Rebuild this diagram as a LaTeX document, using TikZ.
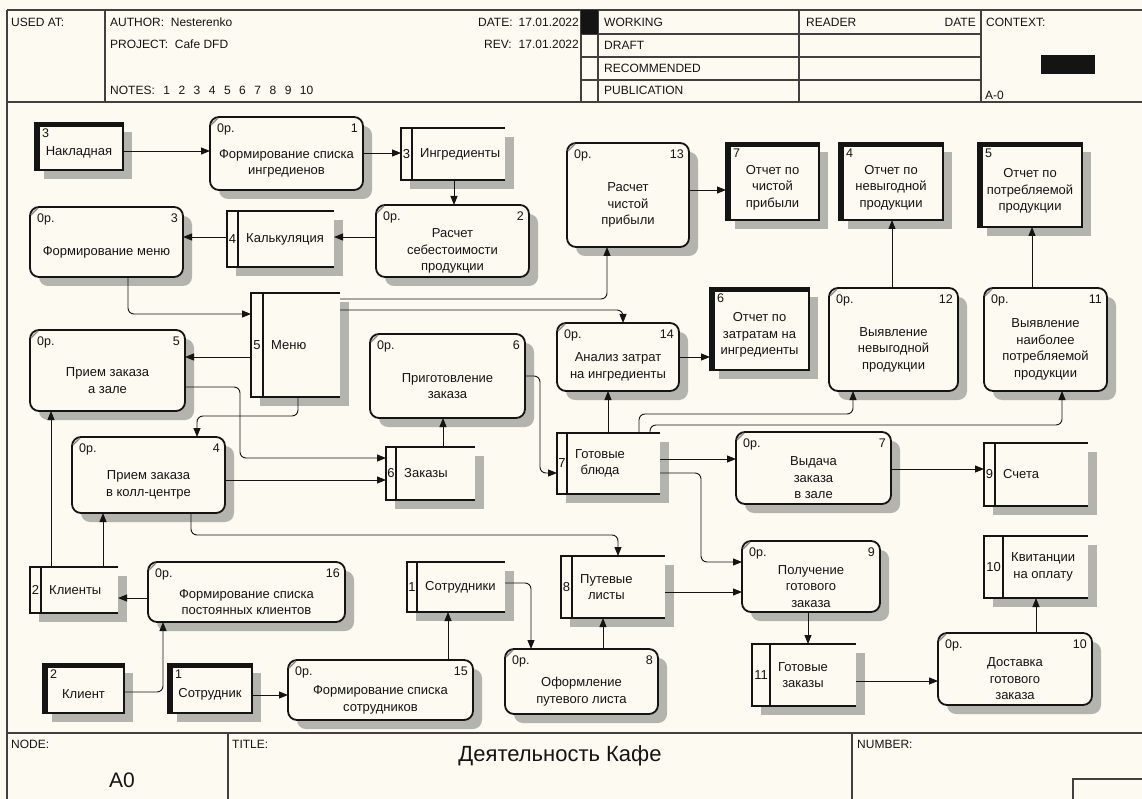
\documentclass[tikz,border=0pt]{standalone}
\usepackage{fontspec}
\setmainfont{Liberation Sans}
\usetikzlibrary{arrows.meta}
\definecolor{bgc}{RGB}{252,250,241}
\definecolor{shadowc}{RGB}{180,180,174}
\definecolor{inkc}{RGB}{20,20,20}
\tikzset{
  conn/.style={draw=inkc, line width=0.9pt, rounded corners=6, -{Triangle[length=9pt,width=7pt]}},
  pbox/.style={draw=inkc, line width=1.8pt, rounded corners=9, fill=bgc, inner sep=0pt, outer sep=0pt},
  ebox/.style={draw=inkc, line width=1.6pt, fill=bgc, inner sep=0pt, outer sep=0pt},
  sbox/.style={draw=none, inner sep=0pt, outer sep=0pt},
  sline/.style={draw=inkc, line width=1.6pt},
  lbl/.style={font=\fontsize{13}{16.5}\selectfont, align=center, inner sep=0pt, text=inkc},
  nlbl/.style={font=\fontsize{12.5}{14}\selectfont, inner sep=0pt, text=inkc},
  hdr/.style={font=\fontsize{12}{14}\selectfont, inner sep=0pt, anchor=west, text=inkc},
  frame/.style={draw=black!75, line width=1.3pt},
}
\newcommand\procbox[7]{%
  \pgfmathsetmacro\myCX{(#2+#4)/2}%
  \pgfmathsetmacro\myCY{(#3+#5)/2}%
  \pgfmathsetmacro\myW{#4-#2}%
  \pgfmathsetmacro\myH{#5-#3}%
  \fill[shadowc, rounded corners=9] (#2+9,#3+9) rectangle (#4+9,#5+9);
  \node[pbox, minimum width=\myW pt, minimum height=\myH pt] (#1) at (\myCX,\myCY) {};
  \draw[gray, line width=1.2pt] (#2+1,#3+8) -- (#2+8,#3+1);
  \node[nlbl, anchor=north west] at (#2+7,#3+7) {0р.};
  \node[nlbl, anchor=north east] at (#4-5,#3+7) {#6};
  \node[lbl] at (\myCX,\myCY+10) {#7};
}
\newcommand\storebox[8]{%
  \pgfmathsetmacro\myCX{(#2+#4)/2}%
  \pgfmathsetmacro\myCY{(#3+#5)/2}%
  \pgfmathsetmacro\myW{#4-#2}%
  \pgfmathsetmacro\myH{#5-#3}%
  \pgfmathsetmacro\myNX{(#2+#6)/2}%
  \fill[shadowc] (#2+9,#3+9) rectangle (#4+9,#5+9);
  \node[sbox, fill=bgc, minimum width=\myW pt, minimum height=\myH pt] (#1) at (\myCX,\myCY) {};
  \draw[sline] (#4,#3) -- (#2,#3) -- (#2,#5) -- (#4,#5);
  \draw[sline] (#6,#3) -- (#6,#5);
  \node[lbl] at (\myNX,\myCY) {#7};
  \node[lbl, anchor=west] at (#6+8,\myCY) {#8};
}
\newcommand\entbox[7]{%
  \pgfmathsetmacro\myCX{(#2+#4)/2}%
  \pgfmathsetmacro\myCY{(#3+#5)/2}%
  \pgfmathsetmacro\myW{#4-#2}%
  \pgfmathsetmacro\myH{#5-#3}%
  \fill[shadowc] (#2+9,#3+9) rectangle (#4+9,#5+9);
  \node[ebox, minimum width=\myW pt, minimum height=\myH pt] (#1) at (\myCX,\myCY) {};
  \fill[inkc] (#2-0.8,#3-0.8) rectangle (#2+5,#5+0.8);
  \fill[inkc] (#2-0.8,#3-0.8) rectangle (#4+0.8,#3+4);
  \node[nlbl, anchor=north west] at (#2+7,#3+6) {#6};
  \node[lbl] at (\myCX,\myCY+6) {#7};
}
\newcommand\nsp{\hskip 8.5pt\relax}
\begin{document}
\begin{tikzpicture}[x=1pt,y=-1pt]
\useasboundingbox (0,0) rectangle (1142,799);
\fill[bgc] (0,0) rectangle (1142,799);
% ---------- header ----------
\draw[frame] (7,10) -- (1142,10);
\draw[frame] (7,10) -- (7,799);
\draw[frame] (7,102) -- (1142,102);
\draw[frame] (105,10) -- (105,102);
\draw[frame] (581,10) -- (581,102);
\draw[frame] (598,10) -- (598,102);
\draw[frame] (799,10) -- (799,102);
\draw[frame] (981,10) -- (981,102);
\draw[frame] (581,34) -- (981,34);
\draw[frame] (581,57) -- (981,57);
\draw[frame] (581,80) -- (981,80);
\fill[inkc] (581,10) rectangle (598,34);
\fill[inkc] (1041,55) rectangle (1095,74);
\node[hdr] at (11,22) {USED AT:};
\node[hdr] at (110,22) {AUTHOR:\ \ Nesterenko};
\node[hdr] at (110,44) {PROJECT:\ \ Cafe DFD};
\node[hdr] at (110,90) {NOTES:\nsp 1\nsp 2\nsp 3\nsp 4\nsp 5\nsp 6\nsp 7\nsp 8\nsp 9\nsp 10};
\node[hdr] at (478,22) {DATE:};
\node[hdr, anchor=east] at (579,22) {17.01.2022};
\node[hdr] at (484,44) {REV:};
\node[hdr, anchor=east] at (579,44) {17.01.2022};
\node[hdr] at (604,22) {WORKING};
\node[hdr] at (604,45) {DRAFT};
\node[hdr] at (604,68) {RECOMMENDED};
\node[hdr] at (604,90) {PUBLICATION};
\node[hdr] at (806,22) {READER};
\node[hdr, anchor=east] at (976,22) {DATE};
\node[hdr] at (986,22) {CONTEXT:};
\node[hdr] at (985,95) {A-0};
% ---------- footer ----------
\draw[frame] (7,733) -- (1142,733);
\draw[frame] (228,733) -- (228,799);
\draw[frame] (852,733) -- (852,799);
\draw[frame] (1073,799) -- (1073,779) -- (1142,779);
\node[hdr] at (11,744) {NODE:};
\node[hdr] at (232,744) {TITLE:};
\node[hdr] at (857,744) {NUMBER:};
\node[font=\fontsize{22}{24}\selectfont, inner sep=0pt, text=inkc] at (560,756) {Деятельность Кафе};
\node[font=\fontsize{21}{24}\selectfont, inner sep=0pt, text=inkc] at (122,780) {A0};
% ---------- processes ----------
\procbox{p1}{210}{117}{363}{190}{1}{Формирование списка\\ингредиенов}
\procbox{p2}{376}{205}{529}{277}{2}{Расчет\\себестоимости\\продукции}
\procbox{p3}{30}{207}{183}{277}{3}{Формирование меню}
\procbox{p13}{567}{143}{689}{247}{13}{Расчет\\чистой\\прибыли}
\procbox{p14}{557}{323}{679}{391}{14}{Анализ затрат\\на ингредиенты}
\procbox{p12}{829}{288}{958}{391}{12}{Выявление\\невыгодной\\продукции}
\procbox{p11}{984}{288}{1107}{391}{11}{Выявление\\наиболее\\потребляемой\\продукции}
\procbox{p5}{30}{330}{185}{411}{5}{Прием заказа\\а зале}
\procbox{p6}{370}{334}{525}{418}{6}{Приготовление\\заказа}
\procbox{p4}{72}{437}{225}{513}{4}{Прием заказа\\в колл-центре}
\procbox{p7}{736}{432}{891}{504}{7}{Выдача\\заказа\\в зале}
\procbox{p9}{742}{541}{880}{612}{9}{Получение\\готового\\заказа}
\procbox{p16}{148}{562}{345}{622}{16}{Формирование списка\\постоянных клиентов}
\procbox{p15}{288}{660}{473}{720}{15}{Формирование списка\\сотрудников}
\procbox{p8}{505}{649}{658}{714}{8}{Оформление\\путевого листа}
\procbox{p10}{938}{633}{1092}{705}{10}{Доставка\\готового\\заказа}
% ---------- data stores ----------
\storebox{s3}{401}{128}{505}{180}{412}{3}{Ингредиенты}
\storebox{s4}{227}{211}{334}{267}{238}{4}{Калькуляция}
\storebox{s5}{251}{293}{340}{397}{263}{5}{Меню}
\storebox{s6}{386}{447}{475}{500}{396}{6}{Заказы}
\storebox{s7}{557}{433}{660}{494}{567}{7}{Готовые\\блюда}
\storebox{s9}{984}{443}{1088}{506}{995}{9}{Счета}
\storebox{s10}{984}{536}{1088}{598}{1003}{10}{Квитанции\\на оплату}
\storebox{s11}{752}{644}{856}{706}{770}{11}{Готовые\\заказы}
\storebox{s2}{30}{567}{118}{613}{41}{2}{Клиенты}
\storebox{s1}{407}{562}{505}{612}{417}{1}{Сотрудники}
\storebox{s8}{561}{556}{665}{618}{572}{8}{Путевые\\листы}
% ---------- external entities ----------
\entbox{e3}{35}{123}{123}{170}{3}{Накладная}
\entbox{e7}{726}{143}{819}{220}{7}{Отчет по\\чистой\\прибыли}
\entbox{e4}{839}{143}{943}{220}{4}{Отчет по\\невыгодной\\продукции}
\entbox{e5}{978}{143}{1082}{227}{5}{Отчет по\\потребляемой\\продукции}
\entbox{e6}{710}{288}{809}{370}{6}{Отчет по\\затратам на\\ингредиенты}
\entbox{e2}{43}{664}{124}{713}{2}{Клиент}
\entbox{e1}{168}{664}{252}{713}{1}{Сотрудник}
% ---------- connectors ----------
\draw[conn] (e3.east |- 0,151) -- (p1.west |- 0,151);
\draw[conn] (p1.east |- 0,153) -- (s3.west |- 0,153);
\draw[conn] (s3.south -| 454,0) -- (p2.north -| 454,0);
\draw[conn] (p2.west |- 0,237) -- (s4.east |- 0,237);
\draw[conn] (s4.west |- 0,237) -- (p3.east |- 0,237);
\draw[conn] (p3.south -| 128,0) -- (128,314) -- (s5.west |- 0,314);
\draw[conn] (s5.east |- 0,299) -- (607,299) -- (p13.south -| 607,0);
\draw[conn] (s5.east |- 0,310) -- (623,310) -- (p14.north -| 623,0);
\draw[conn] (s5.west |- 0,357) -- (p5.east |- 0,357);
\draw[conn] (s5.south -| 298,0) -- (298,416) -- (197,416) -- (p4.north -| 197,0);
\draw[conn] (p5.east |- 0,387) -- (240,387) -- (240,458) -- (s6.west |- 0,458);
\draw[conn] (p4.east |- 0,480) -- (s6.west |- 0,480);
\draw[conn] (s6.north -| 443,0) -- (p6.south -| 443,0);
\draw[conn] (p6.east |- 0,376) -- (540,376) -- (540,473) -- (s7.west |- 0,473);
\draw[conn] (s7.north -| 608,0) -- (p14.south -| 608,0);
\draw[conn] (s7.north -| 639,0) -- (639,414) -- (853,414) -- (p12.south -| 853,0);
\draw[conn] (s7.north -| 650,0) -- (650,425) -- (1062,425) -- (p11.south -| 1062,0);
\draw[conn] (p14.east |- 0,357) -- (e6.west |- 0,357);
\draw[conn] (p13.east |- 0,190) -- (e7.west |- 0,190);
\draw[conn] (p12.north -| 892,0) -- (e4.south -| 892,0);
\draw[conn] (p11.north -| 1032,0) -- (e5.south -| 1032,0);
\draw[conn] (s7.east |- 0,459) -- (p7.west |- 0,459);
\draw[conn] (p7.east |- 0,469) -- (s9.west |- 0,469);
\draw[conn] (s7.east |- 0,473) -- (701,473) -- (701,562) -- (p9.west |- 0,562);
\draw[conn] (s8.east |- 0,592) -- (p9.west |- 0,592);
\draw[conn] (p9.south -| 808,0) -- (s11.north -| 808,0);
\draw[conn] (s11.east |- 0,681) -- (p10.west |- 0,681);
\draw[conn] (p10.north -| 1036,0) -- (s10.south -| 1036,0);
\draw[conn] (p4.south -| 191,0) -- (191,535) -- (618,535) -- (s8.north -| 618,0);
\draw[conn] (s2.north -| 51,0) -- (p5.south -| 51,0);
\draw[conn] (s2.north -| 103,0) -- (p4.south -| 103,0);
\draw[conn] (p16.west |- 0,598) -- (s2.east |- 0,598);
\draw[conn] (e2.east |- 0,692) -- (163,692) -- (p16.south -| 163,0);
\draw[conn] (e1.east |- 0,695) -- (p15.west |- 0,695);
\draw[conn] (p15.north -| 448,0) -- (s1.south -| 448,0);
\draw[conn] (s1.east |- 0,583) -- (531,583) -- (p8.north -| 531,0);
\draw[conn] (p8.north -| 603,0) -- (s8.south -| 603,0);
\end{tikzpicture}
\end{document}
